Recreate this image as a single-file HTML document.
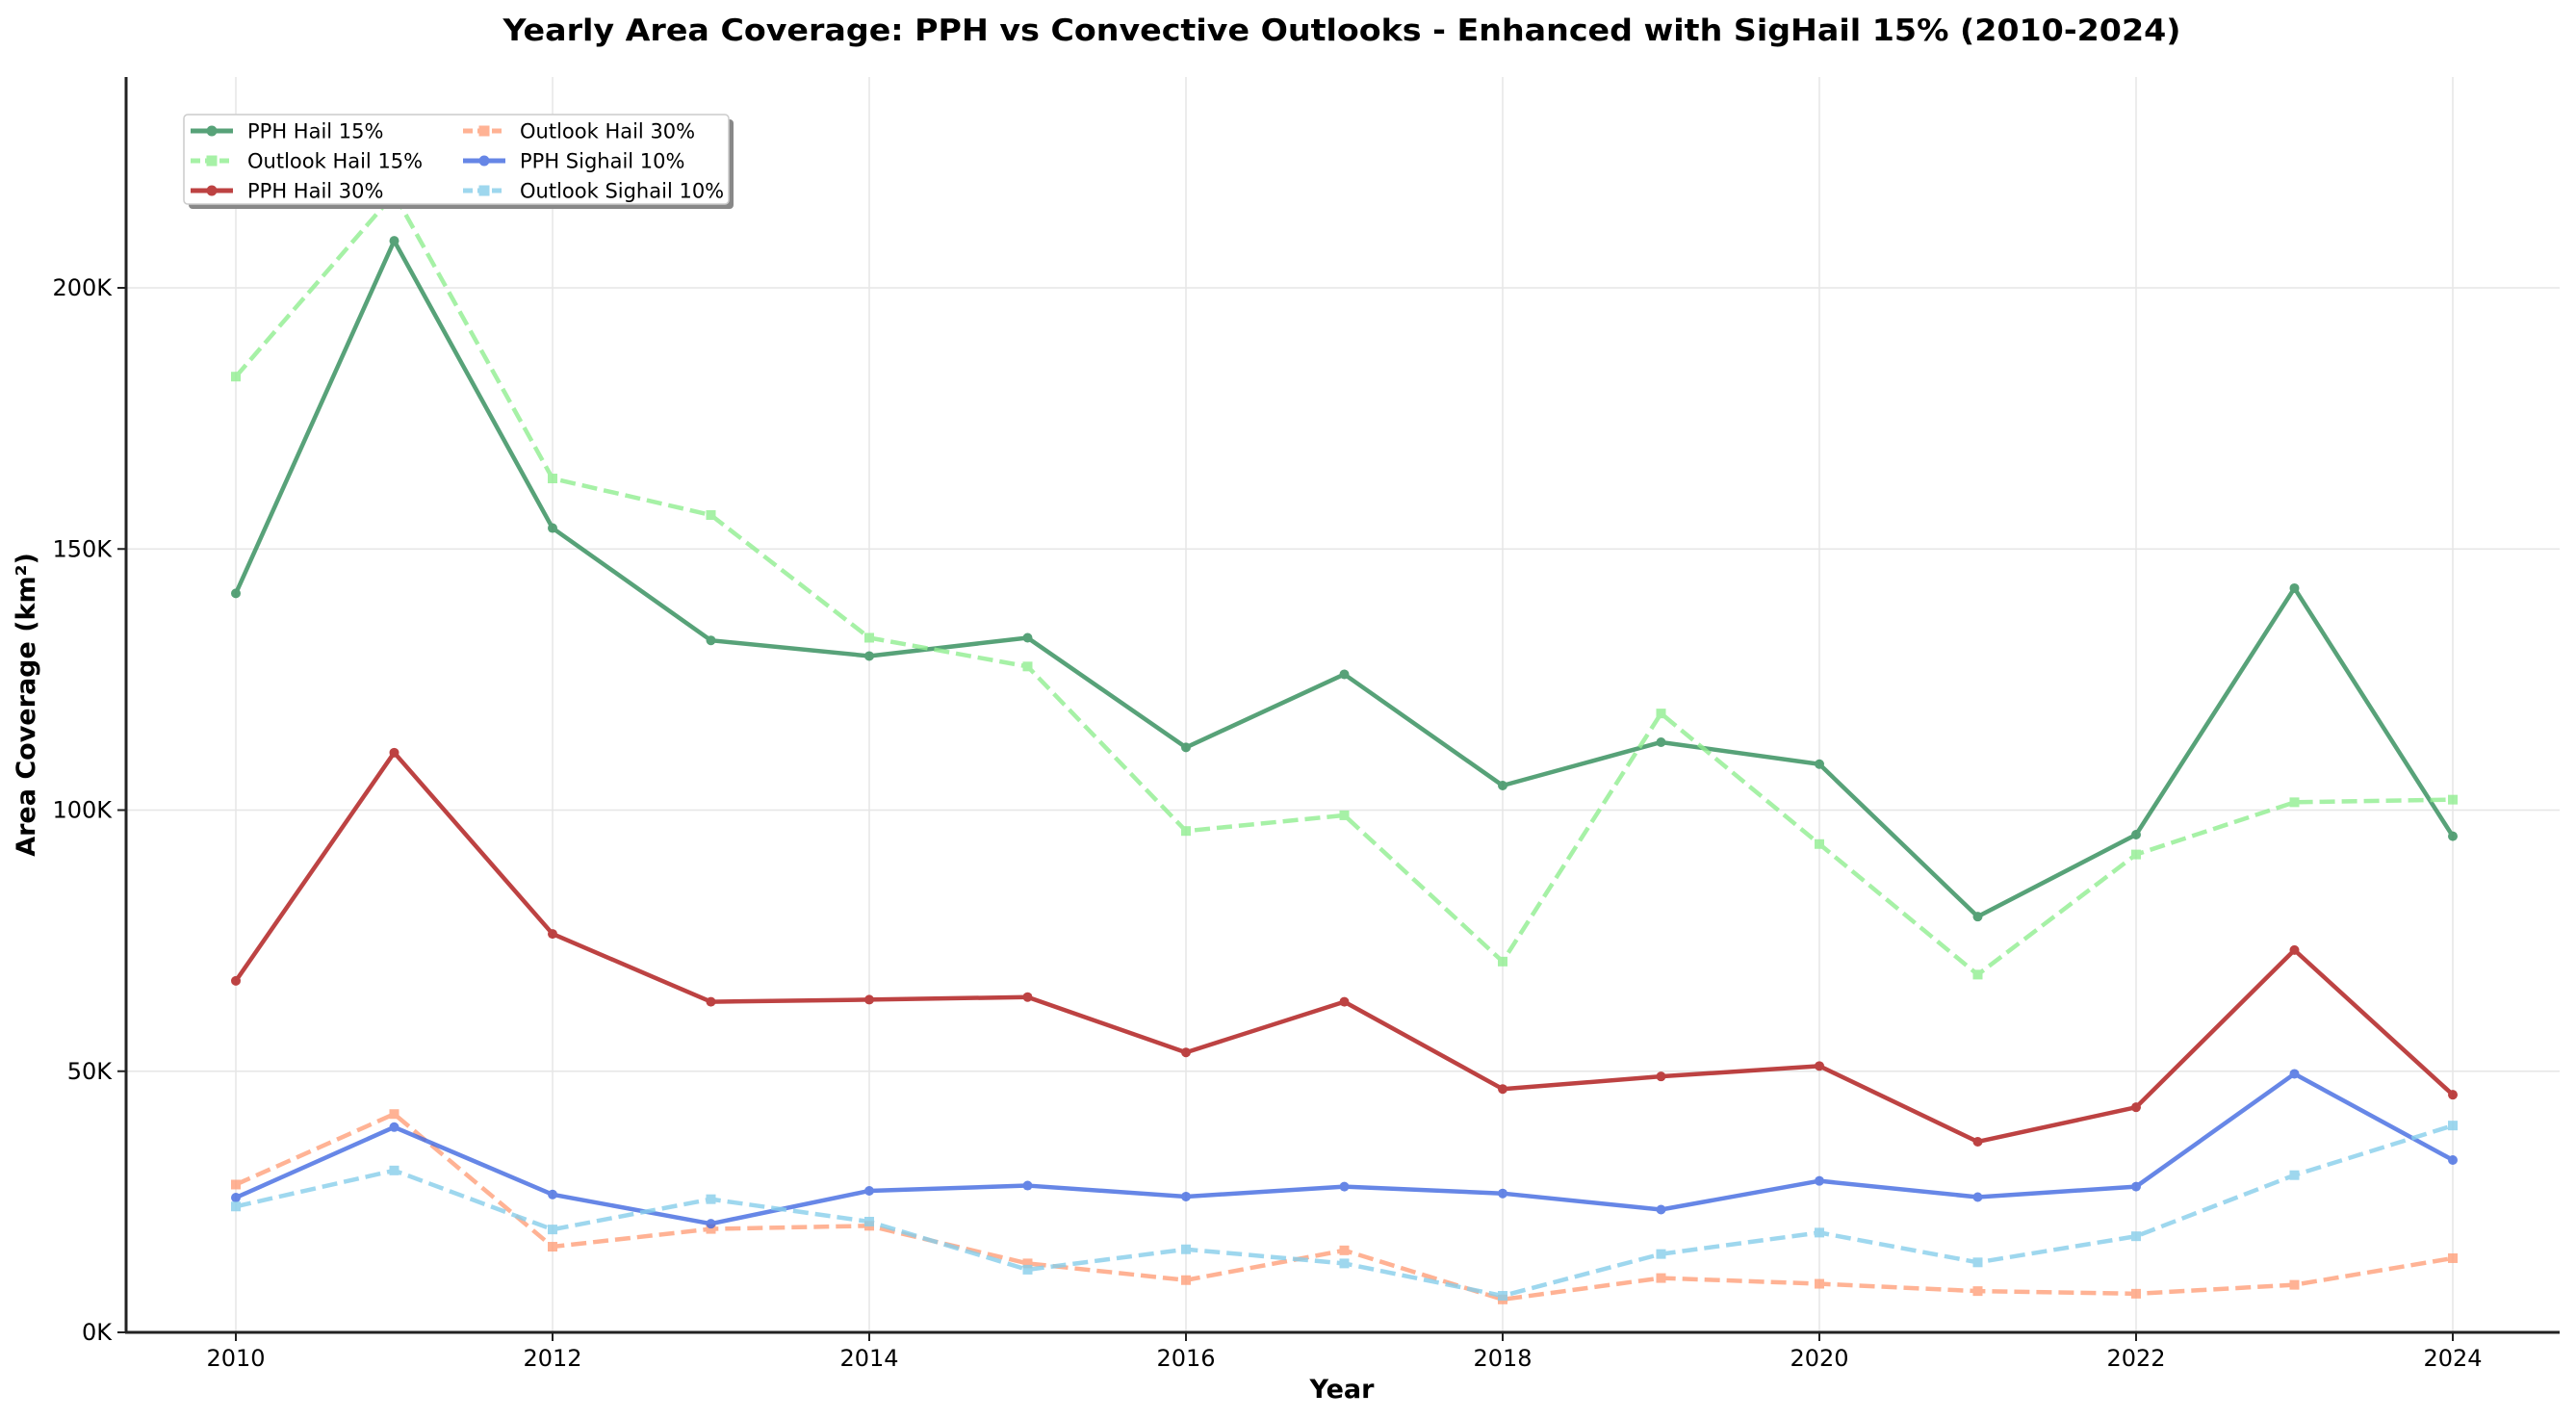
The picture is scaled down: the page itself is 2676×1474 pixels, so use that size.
<!DOCTYPE html>
<html><head><meta charset="utf-8"><style>
body{margin:0;background:#fff}
svg{display:block;font-family:"DejaVu Sans","Liberation Sans",sans-serif}
</style></head><body>
<svg id="chart" width="2676" height="1474" viewBox="0 0 2676 1474" xmlns="http://www.w3.org/2000/svg">
<rect width="2676" height="1474" fill="#fff"/>
<text x="1394" y="42" text-anchor="middle" font-size="31" font-weight="bold" textLength="1743" lengthAdjust="spacingAndGlyphs">Yearly Area Coverage: PPH vs Convective Outlooks - Enhanced with SigHail 15% (2010-2024)</text>
<g id="grid"></g><g id="ticks"></g><g id="series"></g>
<line x1="131" y1="80" x2="131" y2="1385" stroke="#222" stroke-width="3"/>
<line x1="130" y1="1384" x2="2659" y2="1384" stroke="#222" stroke-width="3"/>
<text x="1394" y="1452" text-anchor="middle" font-size="27" font-weight="bold">Year</text>
<text transform="translate(36,732) rotate(-90)" text-anchor="middle" font-size="27" font-weight="bold">Area Coverage (km²)</text>
<g>
<rect x="196" y="124" width="566" height="93" rx="4" fill="#888"/>
<rect x="191" y="119" width="566" height="93" rx="4" fill="#fff" stroke="#ccc" stroke-width="1.5"/>
<g id="legend-items"></g>
</g>
</svg>
<script>
const years=[2010,2011,2012,2013,2014,2015,2016,2017,2018,2019,2020,2021,2022,2023,2024];
const yTicks=[0,50,100,150,200];
const yTickLabels=["0K","50K","100K","150K","200K"];
const xTicks=[2010,2012,2014,2016,2018,2020,2022,2024];
const pphHail15=[141.5,209,154,132.5,129.5,133,112,126,104.7,113,108.8,79.6,95.3,142.5,95];
const outlookHail15=[183,218,163.5,156.5,133,127.5,96,99,71,118.5,93.5,68.5,91.5,101.5,102];
const pphHail30=[67.3,111,76.3,63.3,63.7,64.2,53.6,63.3,46.6,49,51,36.5,43.1,73.2,45.5];
const outlookHail30=[28.3,41.8,16.4,19.8,20.4,13.2,10,15.7,6.3,10.4,9.3,7.9,7.4,9.1,14.2];
const pphSighail10=[25.8,39.3,26.4,20.8,27.1,28.1,26,27.9,26.6,23.5,29,25.9,27.9,49.5,33];
const outlookSighail10=[24.1,31,19.7,25.5,21.2,12,15.9,13.2,7,15,19.1,13.4,18.4,30.1,39.6];

const NS="http://www.w3.org/2000/svg";
const X=v=>245+(v-2010)*164.5;
const Y=v=>1384-v*(1085/200);
function mk(tag,attrs,parent){const e=document.createElementNS(NS,tag);for(const k in attrs)e.setAttribute(k,attrs[k]);parent.appendChild(e);return e;}
const grid=document.getElementById('grid'),ticks=document.getElementById('ticks'),ser=document.getElementById('series');
yTicks.forEach((t,i)=>{
  const g=mk('line',{x1:131,x2:2659,y1:Y(t),y2:Y(t),stroke:'#e6e6e6','stroke-width':1.5},grid);
  
  
  mk('line',{x1:122,x2:131,y1:Y(t),y2:Y(t),stroke:'#222','stroke-width':2},ticks);
  const tx=mk('text',{x:116,y:Y(t)+8,'text-anchor':'end','font-size':24},ticks);
  tx.textContent=yTickLabels[i];
  
  
});
xTicks.forEach(t=>{
  const g=mk('line',{x1:X(t),x2:X(t),y1:80,y2:1384,stroke:'#e6e6e6','stroke-width':1.5},grid);
  
  
  mk('line',{x1:X(t),x2:X(t),y1:1384,y2:1393,stroke:'#222','stroke-width':2},ticks);
  const tx=mk('text',{x:X(t),y:1419,'text-anchor':'middle','font-size':24},ticks);
  tx.textContent=t;
  
  
});
const series=[
 {name:'PPH Hail 15%',data:pphHail15,color:'#2e8b57',dash:false,op:0.8,id:'pph-hail-15'},
 {name:'Outlook Hail 15%',data:outlookHail15,color:'#90ee90',dash:true,op:0.8,id:'outlook-hail-15'},
 {name:'PPH Hail 30%',data:pphHail30,color:'#b22222',dash:false,op:0.85,id:'pph-hail-30'},
 {name:'Outlook Hail 30%',data:outlookHail30,color:'#ffa07a',dash:true,op:0.8,id:'outlook-hail-30'},
 {name:'PPH Sighail 10%',data:pphSighail10,color:'#4169e1',dash:false,op:0.8,id:'pph-sighail-10'},
 {name:'Outlook Sighail 10%',data:outlookSighail10,color:'#87ceeb',dash:true,op:0.8,id:'outlook-sighail-10'}
];
function marker(parent,s,x,y,r){
  if(s.dash) return mk('rect',{x:x-r,y:y-r,width:2*r,height:2*r,fill:s.color},parent);
  return mk('circle',{cx:x,cy:y,r:r,fill:s.color},parent);
}
series.forEach(s=>{
  const g=mk('g',{opacity:s.op},ser);
  
  
  const pts=s.data.map((v,i)=>X(years[i])+','+Y(v)).join(' ');
  const pl=mk('polyline',{points:pts,fill:'none',stroke:s.color,'stroke-width':4.5,'stroke-linejoin':'round'},g);
  if(s.dash)pl.setAttribute('stroke-dasharray','16,7');
  
  
  s.data.forEach((v,i)=>{
    const m=marker(g,s,X(years[i]),Y(v),5);
    
    
  });
});
const li=document.getElementById('legend-items');
const order=[[0,0],[0,1],[0,2],[1,0],[1,1],[1,2]];
series.forEach((s,i)=>{
  const [c,r]=order[i];
  const x0=c?481:198,y=136+r*31;
  const g=mk('g',{opacity:s.op},li);
  
  
  const ln=mk('line',{x1:x0,x2:x0+44,y1:y,y2:y,stroke:s.color,'stroke-width':5},g);
  if(s.dash)ln.setAttribute('stroke-dasharray','10,5');
  marker(g,s,x0+22,y,5.5);
  const t=mk('text',{x:x0+59,y:y+7.5,'font-size':21,fill:'#000'},li);
  t.textContent=s.name;
  
  
});
</script>
</body></html>
